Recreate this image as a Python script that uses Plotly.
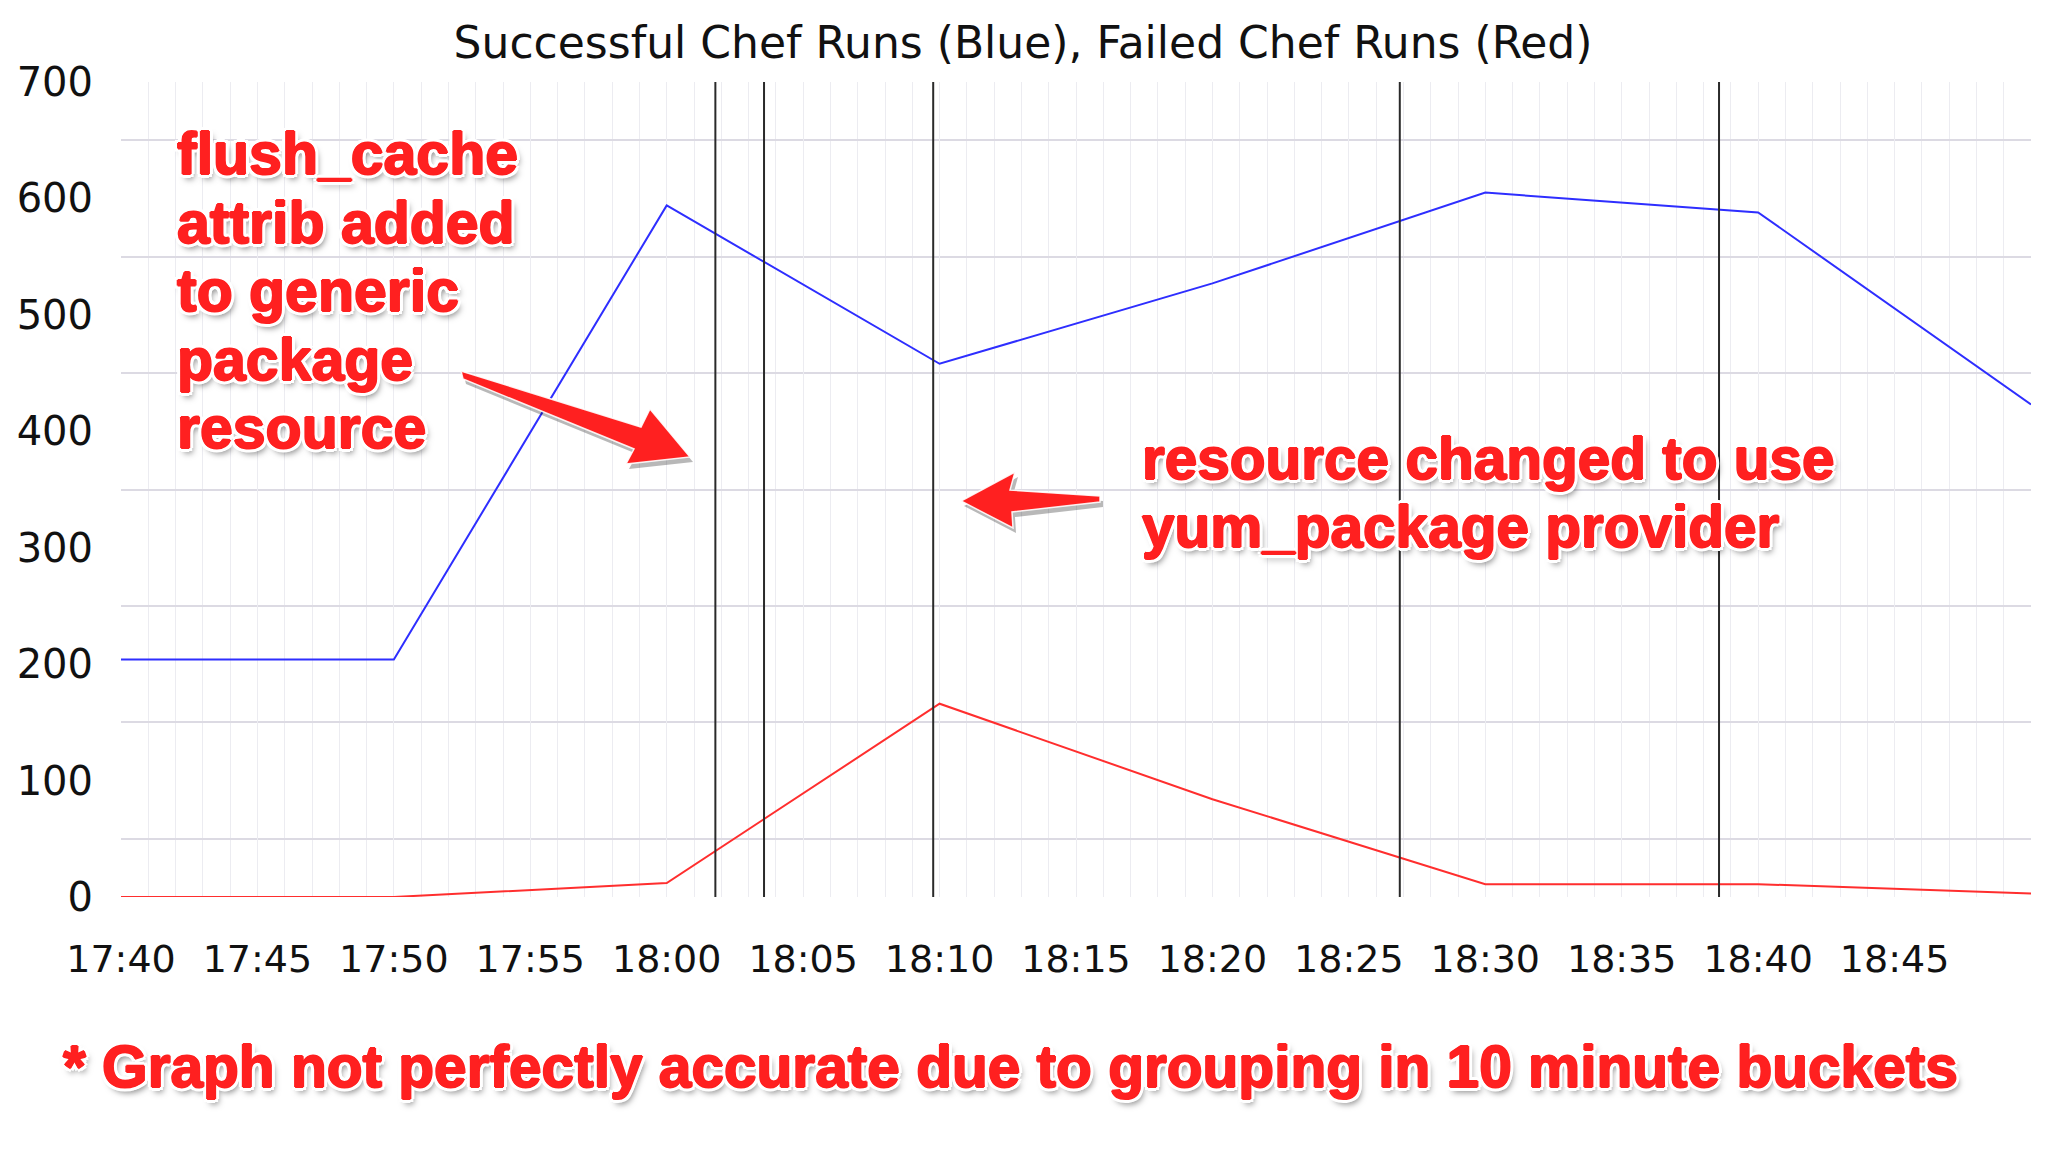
"""Chef run counts in 10 minute buckets, with deploy events marked."""
import plotly.graph_objects as go

DAY = "2015-01-01"
BUCKETS = ["17:40", "17:50", "18:00", "18:10", "18:20", "18:30", "18:40", "18:50"]
SUCCESS_RUNS = [204, 204, 594, 458, 527, 605, 588, 423]
FAILED_RUNS = [0, 0, 12, 166, 84, 11, 11, 3]
EVENT_TIMES = ["18:01:47", "18:03:34", "18:09:46", "18:26:52", "18:38:34"]
X_TICKS = ["17:40", "17:45", "17:50", "17:55", "18:00", "18:05", "18:10",
           "18:15", "18:20", "18:25", "18:30", "18:35", "18:40", "18:45"]
Y_TICKS = [0, 100, 200, 300, 400, 500, 600, 700]

NOTE_LEFT = ["flush_cache", "attrib added", "to generic", "package", "resource"]
NOTE_RIGHT = ["resource changed to use", "yum_package provider"]
FOOTNOTE = "* Graph not perfectly accurate due to grouping in 10 minute buckets"

# the page body adds an 8px margin, so size the figure to fit inside it
PAD = 8
W, H = 2048 - PAD, 1152 - PAD
M = dict(l=121 - PAD, r=17, t=82 - PAD, b=1152 - 897)
PW, PH = W - M["l"] - M["r"], H - M["t"] - M["b"]


def ts(t):
    return f"{DAY} {t}" if len(t) > 5 else f"{DAY} {t}:00"


def paper(px, py):
    """Page pixel position -> paper coords."""
    return (px - PAD - M["l"]) / PW, (H - M["b"] - (py - PAD)) / PH


RED = "#ff2020"
BOLDER = ", ".join(f"{dx}px {dy}px 0 {RED}" for dx, dy in [(1, 0), (-1, 0), (0, 1), (0, -1)])
OUTLINE = ", ".join(f"{dx}px {dy}px 0 #fff" for dx, dy in
                    [(-3, -3), (3, -3), (-3, 3), (3, 3), (0, -4), (0, 4), (-4, 0), (4, 0)])
TEXT_SHADOW = BOLDER + ", " + OUTLINE + ", 3px 5px 6px rgba(0,0,0,0.5)"
NOTE_FONT = dict(family="Liberation Sans, Arial, sans-serif", size=59, color=RED,
                 weight="bold", shadow=TEXT_SHADOW)

fig = go.Figure()
fig.add_trace(go.Scatter(
    x=[ts(t) for t in BUCKETS], y=SUCCESS_RUNS, mode="lines",
    line=dict(color="#2e2eff", width=2), name="Successful",
))
fig.add_trace(go.Scatter(
    x=[ts(t) for t in BUCKETS], y=FAILED_RUNS, mode="lines",
    line=dict(color="#ff2e2e", width=2), name="Failed",
))

for t in EVENT_TIMES:
    fig.add_shape(type="line", xref="x", yref="paper", x0=ts(t), x1=ts(t), y0=0, y1=1,
                  line=dict(color="#2a2a2a", width=2), layer="above")


def arrow(points):
    for dx, dy, fill, line in [(3, 5, "rgba(0,0,0,0.28)", "rgba(0,0,0,0)"),
                               (0, 0, RED, "rgba(255,255,255,0.9)")]:
        pts = [paper(x + dx, y + dy) for x, y in points]
        path = "M " + " L ".join(f"{a:.5f},{b:.5f}" for a, b in pts) + " Z"
        fig.add_shape(type="path", xref="paper", yref="paper", path=path,
                      fillcolor=fill, line=dict(color=line, width=1.5), layer="above")


arrow([(461, 371), (641, 427), (650, 409), (690, 457), (626, 464), (634, 449), (463, 379)])
arrow([(961, 501), (1015, 472), (1010, 490), (1100, 496), (1100, 502), (1012, 512), (1013, 528)])


def note(text, px, py, size=59):
    x, y = paper(px, py)
    fig.add_annotation(text=text, x=x, y=y, xref="paper", yref="paper",
                       xanchor="left", yanchor="middle", showarrow=False,
                       font={**NOTE_FONT, "size": size})


for i, line in enumerate(NOTE_LEFT):
    note(line, 175, 154 + i * 68.5)
for i, line in enumerate(NOTE_RIGHT):
    note(line, 1140, 458 + i * 68.5, size=58.5)
note(FOOTNOTE, 61, 1066, size=58.6)

fig.update_layout(
    width=W, height=H, margin=M,
    paper_bgcolor="white", plot_bgcolor="white",
    showlegend=False,
    font=dict(family="DejaVu Sans, sans-serif", color="#111"),
    title=dict(text="Successful Chef Runs (Blue), Failed Chef Runs (Red)",
               x=(1023 - PAD) / W, xref="container", xanchor="center",
               y=1 - (43 - PAD) / H, yanchor="middle", font=dict(size=44, color="#111")),
    xaxis=dict(
        type="date", range=[ts("17:40"), ts("18:50")], automargin=False,
        tickvals=[ts(t) for t in X_TICKS], ticktext=X_TICKS,
        tickfont=dict(size=38), ticks="", ticklabelstandoff=36,
        showgrid=True, gridcolor="#ececf1", gridwidth=1,
        minor=dict(tick0=ts("17:40"), dtick=60000, showgrid=True,
                   gridcolor="#ececf1", gridwidth=1),
        zeroline=False, showline=False,
    ),
    yaxis=dict(
        range=[0, 700], tickvals=Y_TICKS, tickfont=dict(size=40), automargin=False,
        ticks="", ticklabelstandoff=27, showgrid=False,
        minor=dict(tick0=50, dtick=100, showgrid=True, gridcolor="#dcdae3", gridwidth=2),
        zeroline=False, showline=False,
    ),
)

fig.write_html("out.html")
